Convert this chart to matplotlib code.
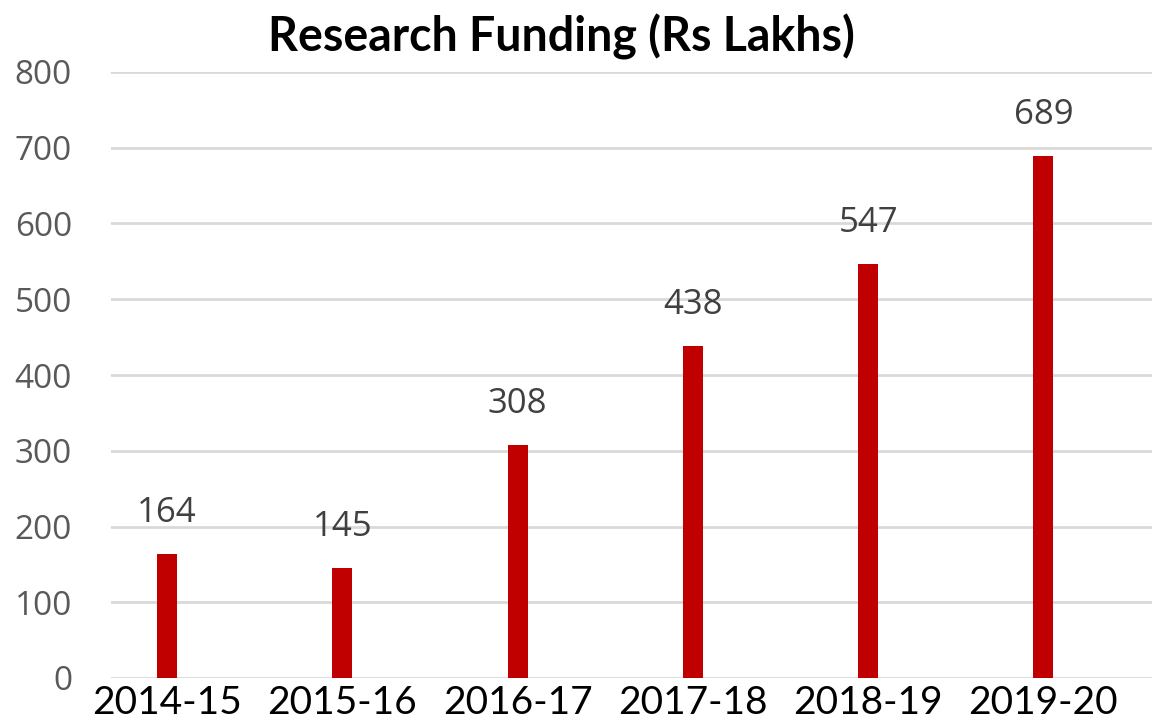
import matplotlib.pyplot as plt
import numpy as np

# data
years = ['2014-15', '2015-16', '2016-17', '2017-18', '2018-19', '2019-20']
funding = [164, 145, 308, 438, 547, 689]

fig = plt.figure(figsize=(11.54, 7.23), dpi=100)
ax = fig.add_axes([111 / 1154, 1 - 678 / 723, (1152 - 111) / 1154, (678 - 72) / 723])

x = np.arange(len(years))
ax.bar(x, funding, width=0.114, color='#C00000', zorder=3)

# data labels
for xi, v in zip(x, funding):
    ax.annotate(str(v), (xi, v), xytext=(0, 23), textcoords='offset points',
                ha='center', va='baseline', fontsize=25, color='#404040',
                family='Open Sans')

ax.set_ylim(0, 800)
ax.set_xlim(-0.32, 5.62)
ax.set_yticks(np.arange(0, 801, 100))
ax.set_xticks(x)
ax.set_xticklabels(years, family='Lato', fontsize=28, color='black')
for lab in ax.get_yticklabels():
    lab.set_family('Open Sans')
    lab.set_fontsize(24)
    lab.set_color('#595959')
ax.tick_params(axis='y', length=0, pad=28)
ax.tick_params(axis='x', length=0, pad=5)

ax.grid(axis='y', color='#D9D9D9', linewidth=2, zorder=0)
for s in ax.spines.values():
    s.set_visible(False)

fig.text(561 / 1154, 1 - 37 / 723, 'Research Funding (Rs Lakhs)', ha='center', va='center',
         family='Lato', fontweight='bold', fontsize=33.5, color='black')

fig.savefig('out.png', dpi=100)
